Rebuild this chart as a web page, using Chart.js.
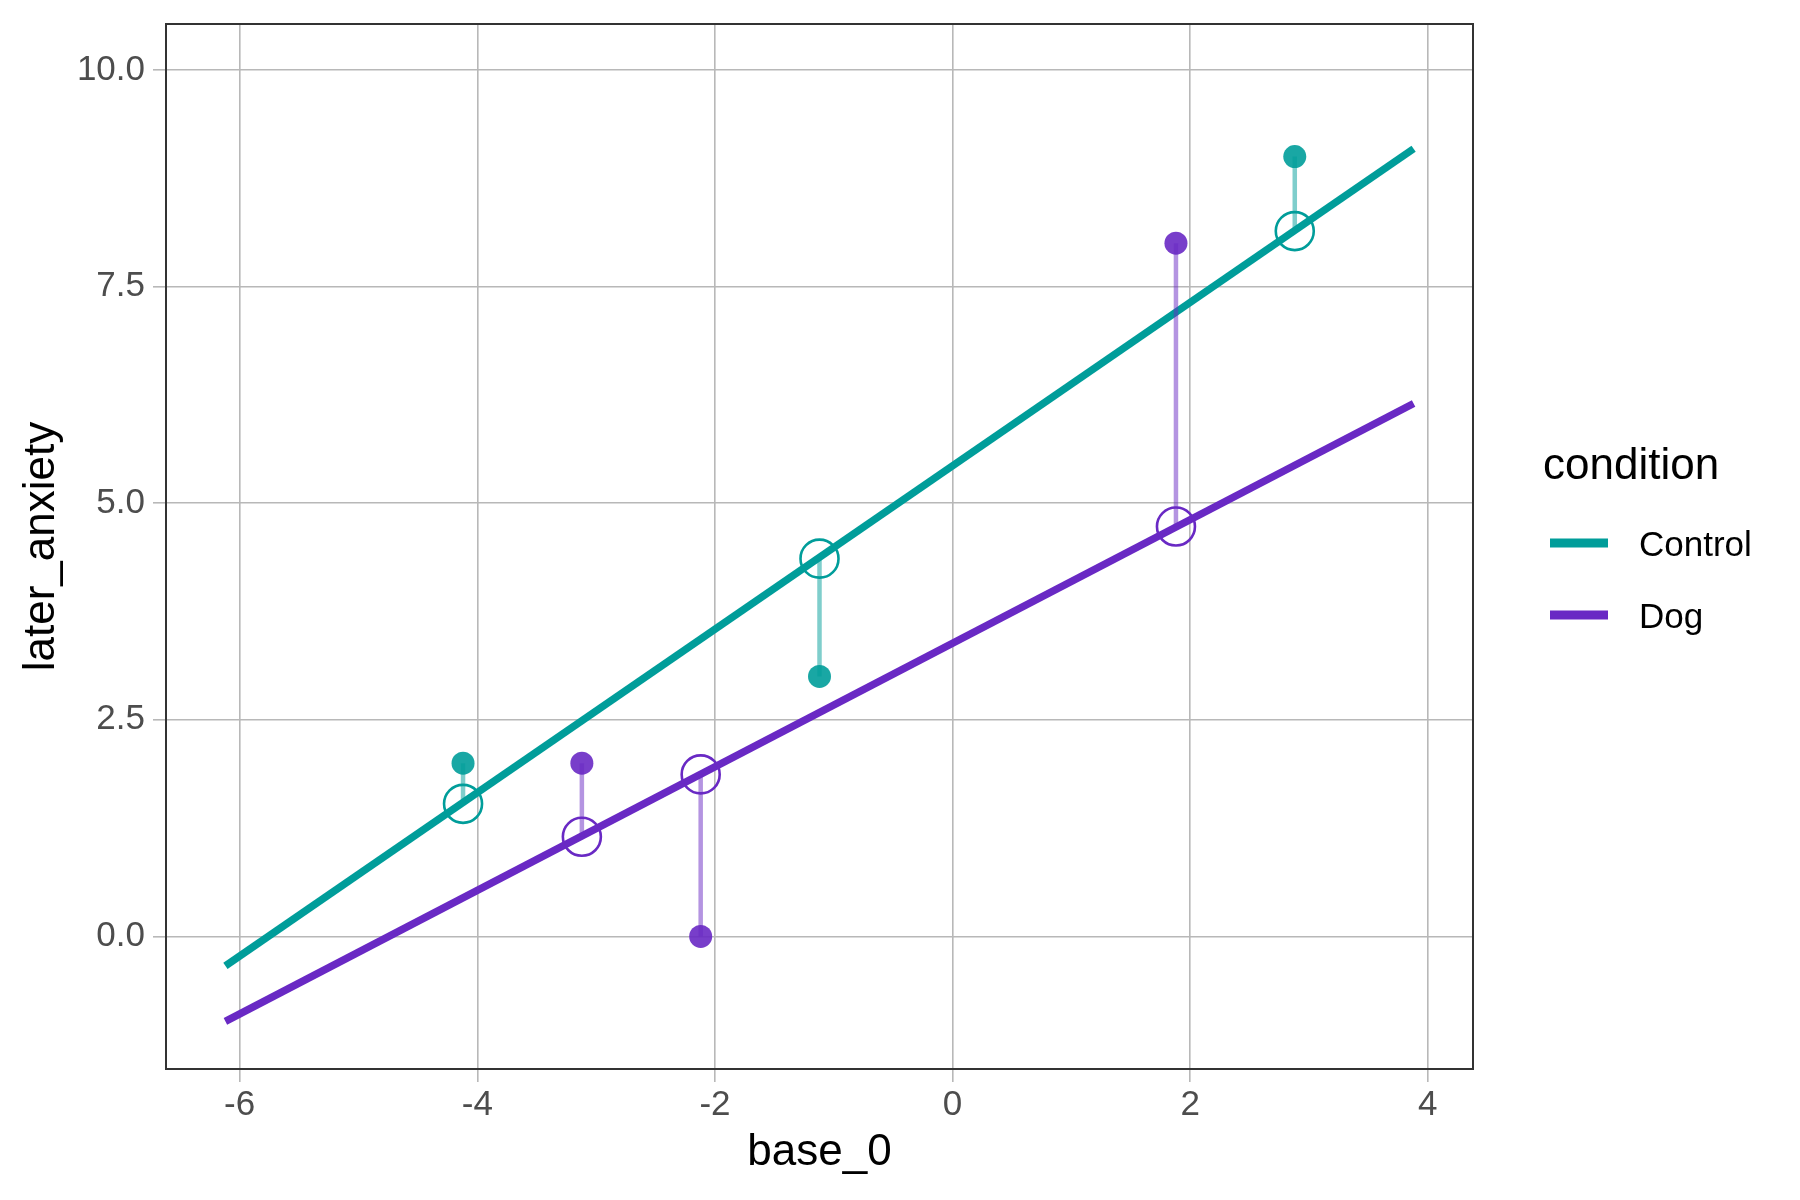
<!DOCTYPE html>
<html>
<head>
<meta charset="utf-8">
<script src="https://cdn.jsdelivr.net/npm/chart.js@4.4.1/dist/chart.umd.min.js"></script>
<style>
  html, body { margin: 0; padding: 0; background: #ffffff; }
  #wrap { width: 1800px; height: 1200px; }
</style>
</head>
<body>
<div id="wrap"><canvas id="c" width="1800" height="1200"></canvas></div>
<script>
// ---- data ----
const conditions = ['Control', 'Dog'];
const colors = ['#009d9a', '#6929c4'];

const controlBase = [-4.12, -1.12, 2.88];
const controlObserved = [2, 3, 9];
const controlFitted = [1.53, 4.36, 8.14];

const dogBase = [-3.12, -2.12, 1.88];
const dogObserved = [2, 0, 8];
const dogFitted = [1.15, 1.87, 4.73];

const fitLineX = [-6.12, 3.88];
const controlLineY = [-0.34, 9.09];
const dogLineY = [-0.98, 6.15];

const xTicks = [-6, -4, -2, 0, 2, 4];
const yTicks = [0, 2.5, 5, 7.5, 10];
const xRange = [-6.62, 4.38];
const yRange = [-1.53, 10.53];

const xTitle = 'base_0';
const yTitle = 'later_anxiety';
const legendTitle = 'condition';

// ---- helpers ----
function alpha(hex, a) {
  const r = parseInt(hex.slice(1, 3), 16), g = parseInt(hex.slice(3, 5), 16), b = parseInt(hex.slice(5, 7), 16);
  return `rgba(${r},${g},${b},${a})`;
}
const pts = (xs, ys) => xs.map((x, i) => ({ x: x, y: ys[i] }));

const groups = [
  { base: controlBase, obs: controlObserved, fit: controlFitted, lineY: controlLineY, color: colors[0] },
  { base: dogBase, obs: dogObserved, fit: dogFitted, lineY: dogLineY, color: colors[1] }
];

const datasets = [];
groups.forEach((g) => {
  // regression line
  datasets.push({
    type: 'line', data: pts(fitLineX, g.lineY), borderColor: g.color, borderWidth: 7.5,
    pointRadius: 0, fill: false, order: 4, borderCapStyle: 'butt'
  });
  // residual segments
  g.base.forEach((x, i) => {
    datasets.push({
      type: 'line', data: [{ x: x, y: g.obs[i] }, { x: x, y: g.fit[i] }],
      borderColor: alpha(g.color, 0.5), borderWidth: 4.5, pointRadius: 0, fill: false, order: 3,
      borderCapStyle: 'butt'
    });
  });
  // observed points
  datasets.push({
    type: 'scatter', data: pts(g.base, g.obs), backgroundColor: alpha(g.color, 0.9),
    borderWidth: 0, pointRadius: 11.5, order: 2
  });
  // fitted (open) circles
  datasets.push({
    type: 'scatter', data: pts(g.base, g.fit), backgroundColor: 'rgba(0,0,0,0)',
    borderColor: g.color, borderWidth: 2.6, pointRadius: 19, order: 1
  });
});

const FONT = '"Liberation Sans", Arial, sans-serif';

const framePlugin = {
  id: 'frame',
  afterDraw(chart) {
    const { ctx, chartArea: a } = chart;
    ctx.save();
    ctx.strokeStyle = '#333333';
    ctx.lineWidth = 2;
    ctx.strokeRect(a.left, a.top, a.right - a.left, a.bottom - a.top);
    // legend
    ctx.fillStyle = '#000000';
    ctx.textBaseline = 'alphabetic';
    ctx.textAlign = 'left';
    ctx.font = '44px ' + FONT;
    ctx.fillText(legendTitle, 1543, 479);
    const keyY = [543, 615];
    const labY = [556, 628];
    conditions.forEach((name, i) => {
      ctx.strokeStyle = colors[i];
      ctx.lineWidth = 9;
      ctx.lineCap = 'butt';
      ctx.beginPath();
      ctx.moveTo(1550, keyY[i]);
      ctx.lineTo(1608, keyY[i]);
      ctx.stroke();
      ctx.fillStyle = '#000000';
      ctx.font = '35px ' + FONT;
      ctx.fillText(name, 1639, labY[i]);
    });
    ctx.restore();
  }
};

new Chart(document.getElementById('c'), {
  type: 'scatter',
  data: { datasets: datasets },
  options: {
    responsive: false,
    devicePixelRatio: 1,
    animation: false,
    events: [],
    layout: { padding: { left: 0, right: 327, top: 24, bottom: 0 } },
    plugins: { legend: { display: false }, tooltip: { enabled: false } },
    scales: {
      x: {
        type: 'linear', min: xRange[0], max: xRange[1],
        afterFit(s) { s.height = 131; },
        afterBuildTicks(s) { s.ticks = xTicks.map(v => ({ value: v })); },
        grid: { color: '#b8b8b8', lineWidth: 1.6, tickLength: 13, tickColor: '#b8b8b8', tickWidth: 1.6 },
        border: { display: false },
        ticks: {
          color: '#4d4d4d', font: { size: 35, family: FONT }, padding: 2, maxRotation: 0,
          callback: (v) => String(v)
        },
        title: {
          display: true, text: xTitle, color: '#000000',
          font: { size: 44, family: FONT }, padding: { top: 0, bottom: 21 }
        }
      },
      y: {
        type: 'linear', min: yRange[0], max: yRange[1],
        afterFit(s) { s.width = 166; },
        afterBuildTicks(s) { s.ticks = yTicks.map(v => ({ value: v })); },
        grid: { color: '#b8b8b8', lineWidth: 1.6, tickLength: 13, tickColor: '#b8b8b8', tickWidth: 1.6 },
        border: { display: false },
        ticks: {
          color: '#4d4d4d', font: { size: 35, family: FONT, lineHeight: 0.8 }, padding: 8,
          callback: (v) => Number(v).toFixed(1)
        },
        title: {
          display: true, text: yTitle, color: '#000000',
          font: { size: 44, family: FONT }, padding: { top: 15, bottom: 0 }
        }
      }
    }
  },
  plugins: [framePlugin]
});
</script>
</body>
</html>
